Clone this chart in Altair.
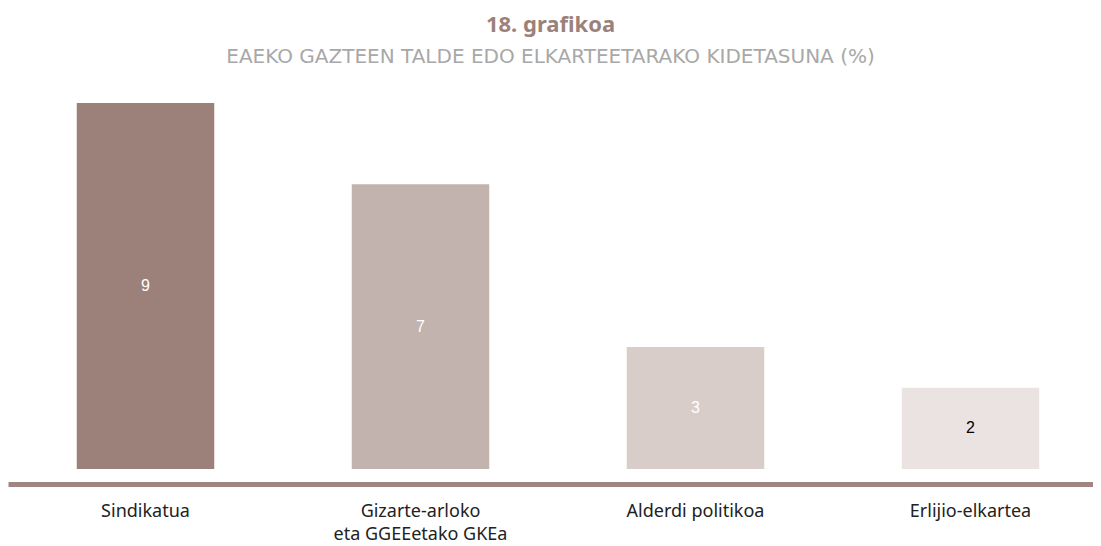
import altair as alt
import pandas as pd

categories = ["Sindikatua", "Gizarte-arloko\neta GGEEetako GKEa", "Alderdi politikoa", "Erlijio-elkartea"]
values = [9, 7, 3, 2]
bar_colors = ["#9c817a", "#c3b3ae", "#d9cdca", "#ebe3e2"]
text_colors = ["#ffffff", "#ffffff", "#ffffff", "#000000"]

df = pd.DataFrame({"cat": categories, "value": values})

xenc = alt.X("cat:N", sort=categories, title=None,
             scale=alt.Scale(paddingInner=0.5, paddingOuter=0.25, range=[0, 1100]),
             axis=alt.Axis(labelAngle=0, domainColor="#a08680", domainWidth=5,
                           ticks=False, grid=False, offset=15, labelPadding=18,
                           labelFont="Noto Sans", labelFontSize=18, labelColor="#222222",
                           labelLineHeight=23,
                           labelExpr="split(datum.label, '\\n')"))

base = alt.Chart(df)
bars = base.mark_bar().encode(
    x=xenc,
    y=alt.Y("value:Q", axis=None, scale=alt.Scale(domain=[0, 9], nice=False)),
    color=alt.Color("cat:N", sort=categories,
                    scale=alt.Scale(domain=categories, range=bar_colors), legend=None),
)
labels = base.mark_text(font="Liberation Sans", fontSize=16, baseline="middle").encode(
    x=alt.X("cat:N", sort=categories),
    y=alt.Y("mid:Q"),
    text=alt.Text("value:Q"),
    color=alt.Color("cat:N", sort=categories,
                    scale=alt.Scale(domain=categories, range=text_colors), legend=None),
).transform_calculate(mid="datum.value / 2")

chart = alt.layer(bars, labels).resolve_scale(color="independent").properties(
    width=1085, height=366,
    autosize=alt.AutoSizeParams(type="none"),
    padding={"left": 0, "right": 0, "top": 95, "bottom": 78},
    title=alt.TitleParams(
        text="18. grafikoa",
        subtitle="EAEKO GAZTEEN TALDE EDO ELKARTEETARAKO KIDETASUNA (%)",
        anchor="middle", font="Noto Sans", fontSize=22, fontWeight="bold", color="#9c817a",
        subtitleFont="DejaVu Sans", subtitleFontSize=20, subtitleColor="#a8a8a8",
        subtitleFontWeight="normal", subtitlePadding=10, offset=35,
    ),
).configure_view(stroke=None)

chart.save("out.html", embed_options={"renderer": "svg", "actions": False})
